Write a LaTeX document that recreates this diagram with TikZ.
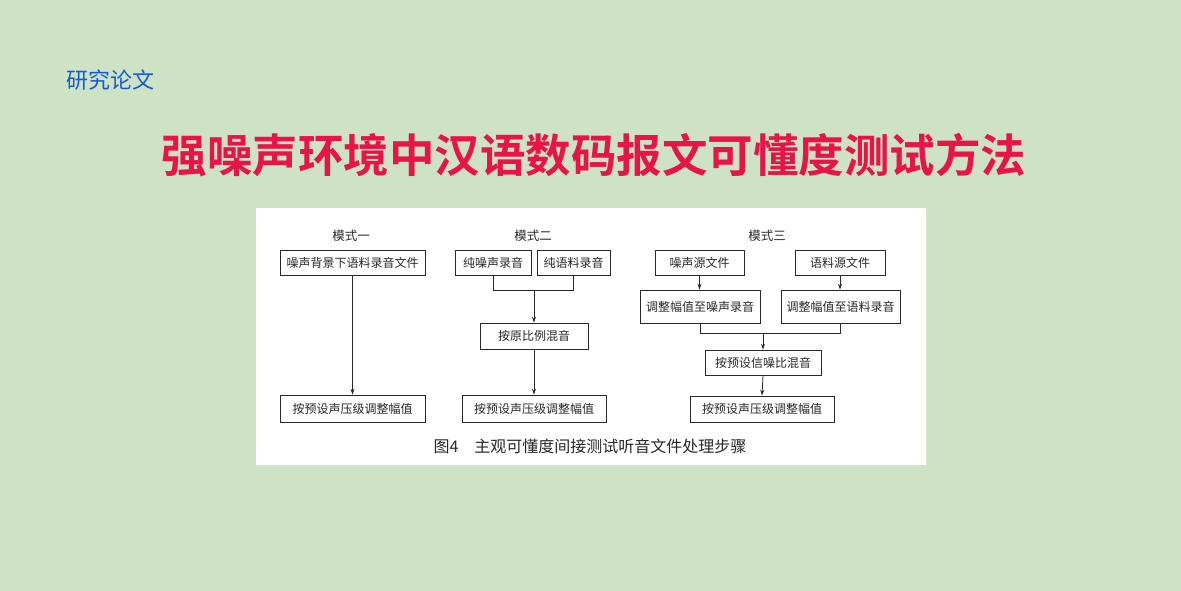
\documentclass[tikz,border=0pt]{standalone}
\usepackage{fontspec}
\newfontfamily\cjk{Noto Sans CJK SC}
\newfontfamily\cjkb{Noto Sans CJK SC Bold}
\usetikzlibrary{arrows.meta}
\definecolor{bg}{RGB}{206,226,196}
\definecolor{ttl}{RGB}{232,20,70}
\definecolor{blu}{RGB}{20,90,210}
\definecolor{ink}{RGB}{40,40,40}
\tikzset{box/.style={draw=ink,line width=0.8pt,inner sep=0pt,font=\cjk\fontsize{12}{12}\selectfont,text=ink},
ar/.style={draw=ink,line width=0.8pt,-{Stealth[length=6pt,width=4pt]}},
ln/.style={draw=ink,line width=0.8pt},
lab/.style={font=\cjk\fontsize{12.5}{12.5}\selectfont,text=ink},
ttlf/.style={font=\cjkb\fontsize{45.5}{45.5}\selectfont}}
\newcommand\bx[6]{\node[box,minimum width=#4-#2,minimum height=#5-#3] (#1) at ({(#2+#4)/2},{(#3+#5)/2}) {#6};}
\begin{document}
\begin{tikzpicture}[x=1pt,y=-1pt]
\fill[bg] (0,0) rectangle (1181,591);
\useasboundingbox (0,0) rectangle (1181,591);
\fill[white] (256,208) rectangle (926,465);
\node[font=\cjk\fontsize{22}{22}\selectfont,text=blu] (kind) at (110,80) {研究论文};
\node[ttlf,text=ttl] (title) at (594,155) {强噪声环境中汉语数码报文可懂度测试方法};
% mode 1
\node[lab] (m1) at (351,236) {模式一};
\bx{a1}{280}{250}{425}{275}{噪声背景下语料录音文件}
\bx{a2}{280}{395}{425}{422}{按预设声压级调整幅值}
\draw[ar] (a1.south) -- (a2.north);
% mode 2
\node[lab] (m2) at (533,236) {模式二};
\bx{b1}{455}{250}{531}{275}{纯噪声录音}
\bx{b2}{537}{250}{610}{275}{纯语料录音}
\bx{b3}{480}{323}{588}{349}{按原比例混音}
\bx{b4}{462}{395}{606}{422}{按预设声压级调整幅值}
\coordinate (bj) at (534,290);
\draw[ln] (b1.south) -- (b1.south|-bj) -- (b2.south|-bj) -- (b2.south);
\draw[ar] (bj) -- (b3.north);
\draw[ar] (b3.south) -- (b4.north);
% mode 3
\node[lab] (m3) at (767,236) {模式三};
\bx{c1}{655}{250}{744}{275}{噪声源文件}
\bx{c2}{795}{250}{885}{275}{语料源文件}
\bx{c3}{640}{290}{760}{323}{调整幅值至噪声录音}
\bx{c4}{781}{290}{900}{323}{调整幅值至语料录音}
\bx{c5}{705}{350}{821}{375}{按预设信噪比混音}
\bx{c6}{690}{396}{834}{422}{按预设声压级调整幅值}
\draw[ar] (c1) -- (c1|-c3.north);
\draw[ar] (c2) -- (c2|-c4.north);
\coordinate (cj) at (763,333);
\draw[ln] (c3.south) -- (c3.south|-cj) -- (c4.south|-cj) -- (c4.south);
\draw[ar] (cj) -- (c5.north);
\draw[ar] (c5.south) -- (c6.north);
\node[font=\cjk\fontsize{16}{16}\selectfont,text=ink] (cap) at (590,446) {图4\quad 主观可懂度间接测试听音文件处理步骤};
\end{tikzpicture}
\end{document}
